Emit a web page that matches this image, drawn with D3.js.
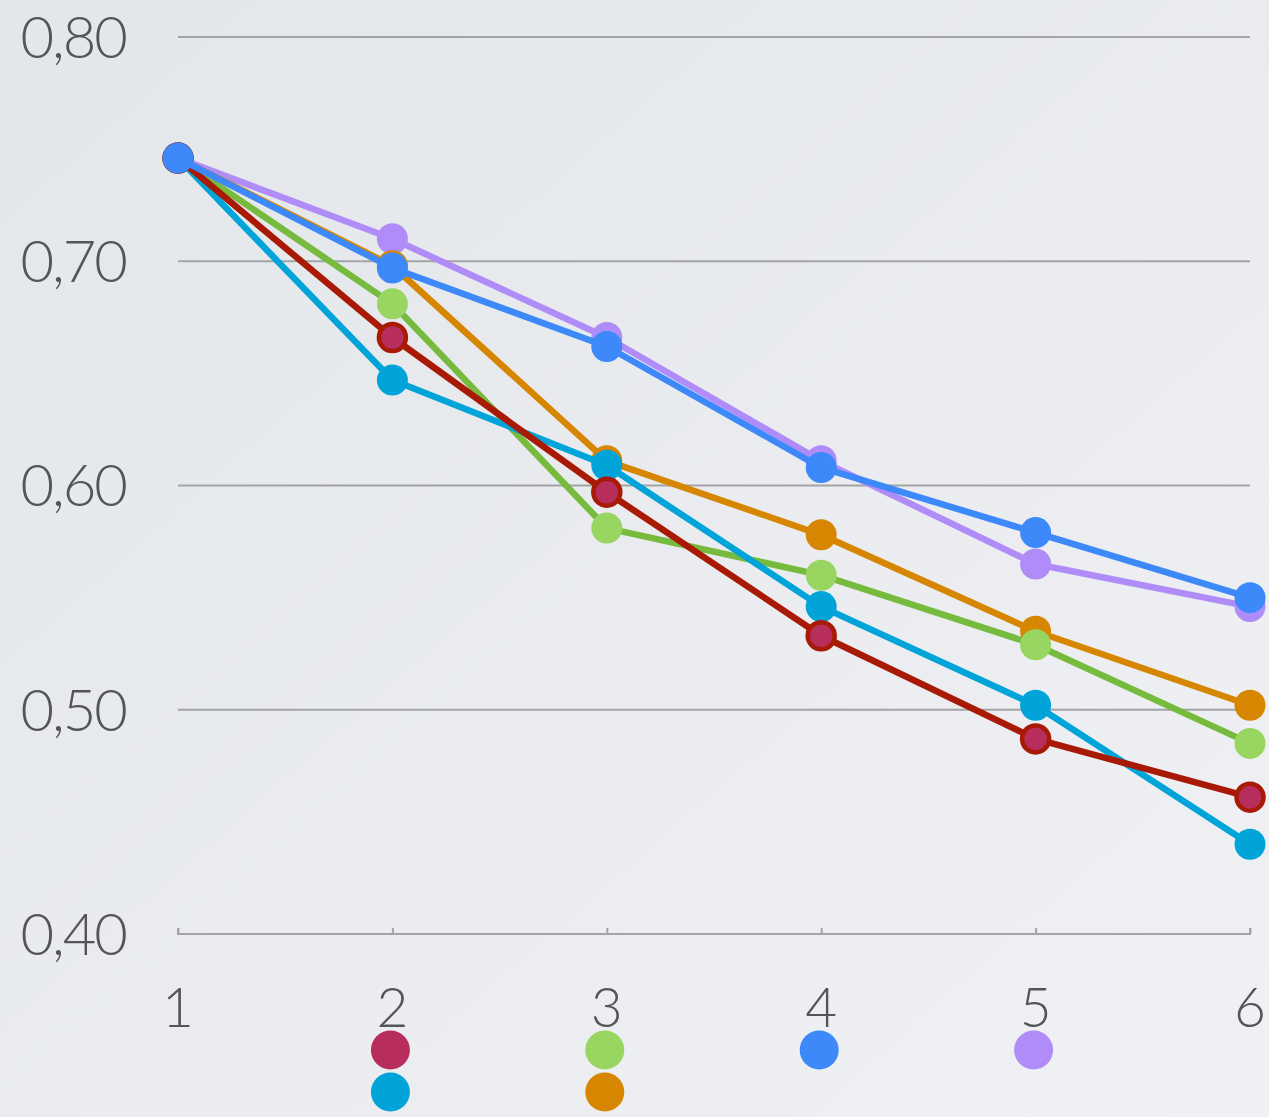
<!DOCTYPE html>
<html>
<head>
<meta charset="utf-8">
<script src="https://cdn.jsdelivr.net/npm/d3@7"></script>
<style>
  html, body { margin: 0; padding: 0; }
  body { width: 1269px; height: 1117px; overflow: hidden; }
  svg text { font-family: "Lato", "Open Sans", sans-serif; font-weight: 300; fill: #555; }
</style>
</head>
<body>
<svg id="chart" width="1269" height="1117"></svg>
<script>
// Categories along the x axis and the y tick values
const categories = [1, 2, 3, 4, 5, 6];
const yTicks = [0.40, 0.50, 0.60, 0.70, 0.80];

// Series values, one array per line
const seriesPurple = [0.746, 0.710, 0.666, 0.611, 0.565, 0.546];
const seriesOrange = [0.746, 0.698, 0.611, 0.578, 0.535, 0.502];
const seriesGreen  = [0.746, 0.681, 0.581, 0.560, 0.529, 0.485];
const seriesCyan   = [0.746, 0.647, 0.609, 0.546, 0.502, 0.440];
const seriesRed    = [0.746, 0.666, 0.597, 0.533, 0.487, 0.461];
const seriesBlue   = [0.746, 0.697, 0.662, 0.608, 0.579, 0.550];

// Draw order (later series sit on top)
const series = [
  { values: seriesPurple, line: "#b08cf8", fill: "#b08cf8", stroke: null },
  { values: seriesOrange, line: "#d68600", fill: "#d68600", stroke: null },
  { values: seriesGreen,  line: "#77bb3e", fill: "#98d561", stroke: null },
  { values: seriesCyan,   line: "#00a4d8", fill: "#00a4d8", stroke: null },
  { values: seriesRed,    line: "#a81a05", fill: "#b72d5c", stroke: "#a81a05" },
  { values: seriesBlue,   line: "#3d89fa", fill: "#3d89fa", stroke: null }
];

// Legend swatches (two rows under the axis)
const legend = [
  { color: "#b72d5c", col: 2, row: 0 },
  { color: "#98d561", col: 3, row: 0 },
  { color: "#3d89fa", col: 4, row: 0 },
  { color: "#b08cf8", col: 5, row: 0 },
  { color: "#00a4d8", col: 2, row: 1 },
  { color: "#d68600", col: 3, row: 1 }
];

const svg = d3.select("#chart");
const W = 1269, H = 1117;

// soft grey backdrop
const defs = svg.append("defs");
const grad = defs.append("linearGradient").attr("id", "bg")
  .attr("x1", "0").attr("y1", "0").attr("x2", "1").attr("y2", "1");
grad.append("stop").attr("offset", "0").attr("stop-color", "#e3e6ea");
grad.append("stop").attr("offset", "1").attr("stop-color", "#f0f1f4");
svg.append("rect").attr("width", W).attr("height", H).attr("fill", "url(#bg)");

const x = d3.scaleLinear().domain([1, 6]).range([178, 1250]);
const y = d3.scaleLinear().domain([0.40, 0.80]).range([934, 37]);
const fmt = v => d3.format(".2f")(v).replace(".", ",");

// horizontal gridlines
svg.append("g").selectAll("line").data(yTicks.filter(v => v > 0.40)).join("line")
  .attr("x1", x(1)).attr("x2", x(6))
  .attr("y1", d => y(d)).attr("y2", d => y(d))
  .attr("stroke", "#a3a4a6").attr("stroke-width", 2);

// y axis labels
svg.append("g").selectAll("text").data(yTicks).join("text")
  .attr("x", 126).attr("y", d => y(d))
  .attr("dy", "0.36em")
  .attr("text-anchor", "end")
  .style("font-size", "58px")
  .style("letter-spacing", "-2px")
  .text(fmt);

// x axis with upward ticks
const xAxis = svg.append("g").attr("transform", `translate(0,${y(0.40)})`)
  .call(d3.axisTop(x).tickValues(categories).tickSize(6).tickFormat(""));
xAxis.select(".domain").attr("stroke", "#a3a4a6").attr("stroke-width", 2)
  .attr("d", `M${x(1)},-6V0H${x(6)}V-6`);
xAxis.selectAll(".tick line").attr("stroke", "#a3a4a6").attr("stroke-width", 2);

svg.append("g").selectAll("text").data(categories).join("text")
  .attr("x", d => x(d)).attr("y", 1027)
  .attr("text-anchor", "middle")
  .style("font-size", "55px")
  .text(d => d);

// lines and markers
const lineGen = d3.line().x((d, i) => x(categories[i])).y(d => y(d));
series.forEach(s => {
  const g = svg.append("g");
  g.append("path").datum(s.values)
    .attr("d", lineGen)
    .attr("fill", "none")
    .attr("stroke", s.line)
    .attr("stroke-width", 6.5)
    .attr("stroke-linejoin", "round");
  g.selectAll("circle").data(s.values).join("circle")
    .attr("cx", (d, i) => x(categories[i]))
    .attr("cy", d => y(d))
    .attr("r", s.stroke ? 13.5 : 15.5)
    .attr("fill", s.fill)
    .attr("stroke", s.stroke || "none")
    .attr("stroke-width", s.stroke ? 4.5 : 0);
});

// legend dots
svg.append("g").selectAll("circle").data(legend).join("circle")
  .attr("cx", d => x(d.col) - 2)
  .attr("cy", d => 1050 + d.row * 42)
  .attr("r", 19.5)
  .attr("fill", d => d.color);
</script>
</body>
</html>
